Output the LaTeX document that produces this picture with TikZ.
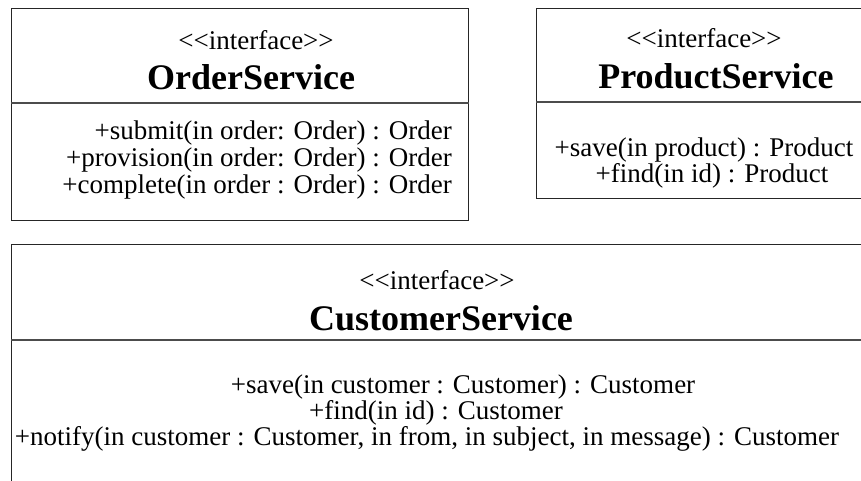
\documentclass[tikz,border=0pt]{standalone}
\usepackage{fontspec}
\setmainfont{Liberation Serif}
\usepackage{tikz}
\usetikzlibrary{positioning}

\begin{document}
\begin{tikzpicture}[
  x=1pt, y=-1pt,
  box/.style={draw=black!85, line width=1.3pt, inner sep=0pt},
  divider/.style={draw=black!70, line width=1.5pt},
  stereo/.style={font=\fontsize{27}{27}\selectfont, inner sep=0pt},
  cname/.style={font=\fontsize{36}{36}\selectfont\bfseries, inner sep=0pt},
  op/.style={font=\fontsize{27}{27}\selectfont, inner sep=0pt}
]
\clip (0,0) rectangle (861,480);
\fill[white] (0,0) rectangle (861,480);

% boxes
\node[box, anchor=north west, minimum width=457pt, minimum height=212pt] (order) at (11,8) {};
\node[box, anchor=north west, minimum width=340pt, minimum height=190pt] (product) at (536,8) {};
\node[box, anchor=north west, minimum width=870pt, minimum height=260pt] (customer) at (11,244) {};

% dividers
\coordinate (od) at (0,103);
\coordinate (pd) at (0,102);
\coordinate (cd) at (0,340);
\draw[divider] (order.west |- od) -- (order.east |- od);
\draw[divider] (product.west |- pd) -- (product.east |- pd);
\draw[divider] (customer.west |- cd) -- (customer.east |- cd);

% OrderService
\node[stereo] (order-st) at (256,40) {<{}<interface>{}>};
\node[cname] (order-nm) at (251,77) {OrderService};
\node[op, anchor=east] (order-op1) at (452,133) {+submit(in order: Order) : Order};
\node[op, anchor=east] (order-op2) at (452,160) {+provision(in order: Order) : Order};
\node[op, anchor=east] (order-op3) at (452,187) {+complete(in order : Order) : Order};

% ProductService
\node[stereo] (product-st) at (704,38) {<{}<interface>{}>};
\node[cname] (product-nm) at (716,76) {ProductService};
\node[op] (product-op1) at (704,150) {+save(in product) : Product};
\node[op] (product-op2) at (712,176) {+find(in id) : Product};

% CustomerService
\node[stereo] (customer-st) at (437,280) {<{}<interface>{}>};
\node[cname] (customer-nm) at (441,318) {CustomerService};
\node[op] (customer-op1) at (463,387) {+save(in customer : Customer) : Customer};
\node[op] (customer-op2) at (436,413) {+find(in id) : Customer};
\node[op] (customer-op3) at (427,439) {+notify(in customer : Customer, in from, in subject, in message) : Customer};
\end{tikzpicture}
\end{document}
